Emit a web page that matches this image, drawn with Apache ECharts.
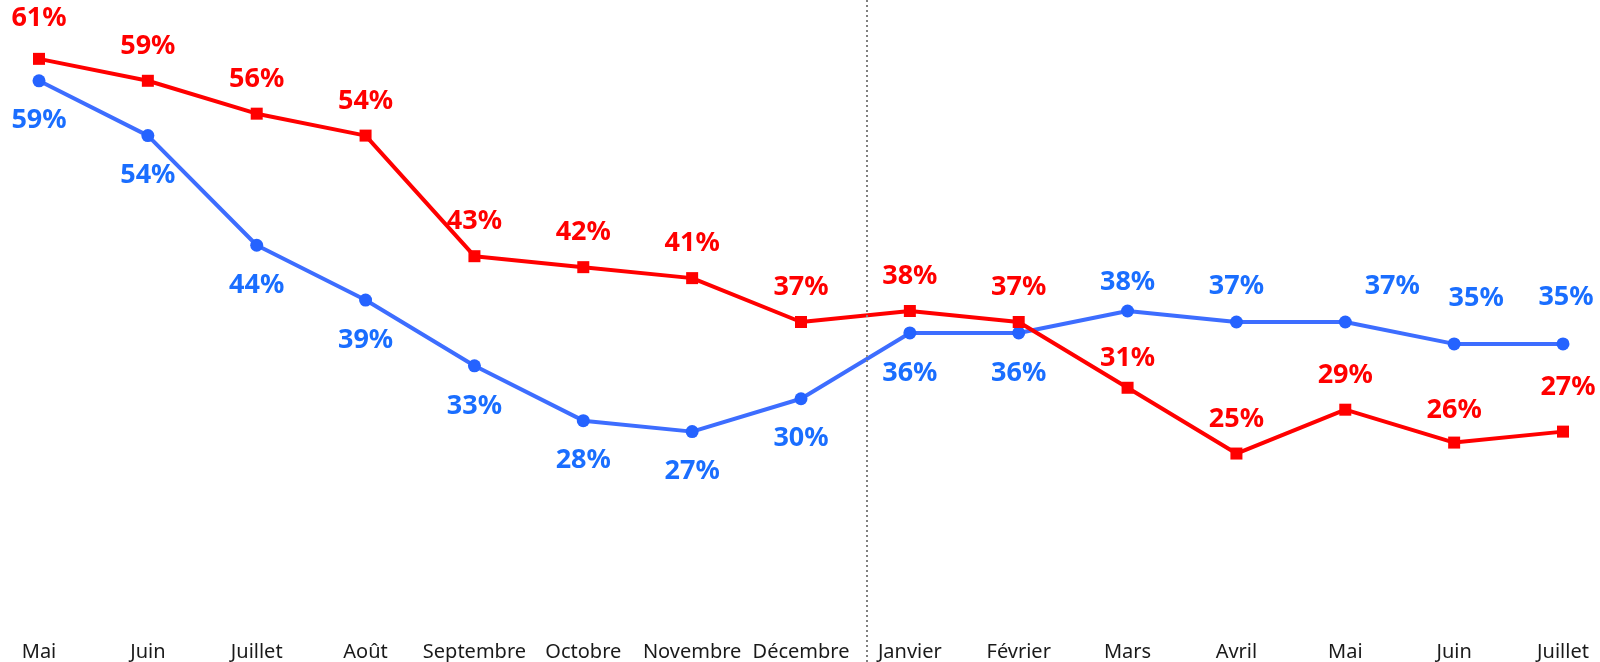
<!DOCTYPE html>
<html>
<head>
<meta charset="utf-8">
<script src="https://cdn.jsdelivr.net/npm/echarts@6/dist/echarts.min.js"></script>
<style>
  html, body { margin: 0; padding: 0; background: #fff; }
  #chart { width: 1600px; height: 662px; }
</style>
</head>
<body>
<div id="chart"></div>
<script>
// Mois (mai -> juillet de l'année suivante)
const months = ['Mai', 'Juin', 'Juillet', 'Août', 'Septembre', 'Octobre', 'Novembre', 'Décembre',
  'Janvier', 'Février', 'Mars', 'Avril', 'Mai', 'Juin', 'Juillet']
// Série rouge (carrés)
const redValues = [61, 59, 56, 54, 43, 42, 41, 37, 38, 37, 31, 25, 29, 26, 27]
// Série bleue (ronds)
const blueValues = [59, 54, 44, 39, 33, 28, 27, 30, 36, 36, 38, 37, 37, 35, 35]
// séparateur des années (position sur l'axe des mois)
const yearBreak = 7.6

// décalages des étiquettes, comme sur l'original
const redNudge = { 0: [0, -6], 10: [0, 5], 13: [0, 2], 14: [5, -10] }
const blueAbove = { 10: [0, 6], 11: [0, -1], 12: [47, -1], 13: [22, -11], 14: [3, -12] }

const FONT = "'Noto Sans', 'DejaVu Sans', sans-serif"
const RED = '#FF0000'
const BLUE_LINE = '#3D6DFF'
const BLUE_MARK = '#2563FF'
const BLUE_TXT = '#1A6EFF'

const chart = echarts.init(document.getElementById('chart'))

const labelBase = { show: true, fontFamily: FONT, fontSize: 27, fontWeight: 'bold', formatter: p => `${p.value}%` }

const redData = redValues.map((v, i) => {
  const n = redNudge[i]
  return n ? { value: v, label: { offset: n } } : v
})
const blueData = blueValues.map((v, i) => {
  const n = blueAbove[i]
  return n ? { value: v, label: { position: 'top', distance: 15, offset: n } } : v
})

chart.setOption({
  animation: false,
  textStyle: { fontFamily: FONT },
  grid: [
    { left: 39, right: 37, top: 15, bottom: 42 },
    { left: 39, right: 37, top: 0, bottom: 0 }
  ],
  xAxis: [{
    type: 'category',
    data: months,
    boundaryGap: false,
    axisLine: { show: false },
    axisTick: { show: false },
    splitLine: { show: false },
    axisLabel: { interval: 0, margin: 24, fontSize: 20, color: '#1a1a1a', fontFamily: FONT }
  }, {
    type: 'value', gridIndex: 1, min: 0, max: months.length - 1, show: false
  }],
  yAxis: [{
    type: 'value', min: 10, max: 65, show: false, splitLine: { show: false }
  }, {
    type: 'value', gridIndex: 1, min: 0, max: 1, show: false
  }],
  series: [{
    type: 'line',
    xAxisIndex: 1, yAxisIndex: 1,
    data: [],
    silent: true,
    markLine: {
      silent: true,
      symbol: 'none',
      label: { show: false },
      lineStyle: { color: '#808080', width: 2, type: [2, 3] },
      data: [{ xAxis: yearBreak }]
    }
  }, {
    type: 'line',
    data: blueData,
    symbol: 'circle',
    symbolSize: 13,
    lineStyle: { color: BLUE_LINE, width: 4 },
    itemStyle: { color: BLUE_MARK },
    label: { ...labelBase, position: 'bottom', distance: 20, color: BLUE_TXT }
  }, {
    type: 'line',
    data: redData,
    symbol: 'rect',
    symbolSize: 12,
    lineStyle: { color: RED, width: 4 },
    itemStyle: { color: RED },
    label: { ...labelBase, position: 'top', distance: 15, color: RED }
  }]
})
</script>
</body>
</html>
